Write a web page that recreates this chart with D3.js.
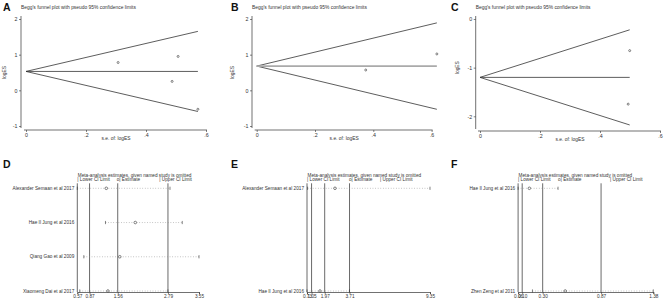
<!DOCTYPE html>
<html>
<head>
<meta charset="utf-8">
<script src="https://cdn.jsdelivr.net/npm/d3@7"></script>
<style>
body { margin: 0; background: #fff; }
text { font-family: "Liberation Sans", Arial, sans-serif; fill: #333; }
</style>
</head>
<body>
<div id="wrapper"></div>
<script>
// Begg's funnel plots: standard error and log effect size per study
const seA = [0.307, 0.507, 0.487, 0.573]
const logesA = [0.78, 0.95, 0.25, -0.53]
const pooledA = 0.53

const seB = [0.374, 0.618]
const logesB = [0.57, 1.02]
const pooledB = 0.68

const seC = [0.499, 0.494]
const logesC = [-0.65, -1.75]
const pooledC = -1.2

const seTicks = [0, 0.2, 0.4, 0.6]
const yTicksAB = [-1, 0, 1, 2]
const yTicksC = [-2, -1, 0]

// sensitivity analysis: estimate when the named study is omitted
const studiesD = ['Alexander Semaan et al 2017', 'Hae Il Jung et al 2016', 'Qiang Gao et al 2009', 'Xiaomeng Dai et al 2017']
const estD = [1.28, 1.99, 1.61, 1.32]
const lowD = [0.57, 1.26, 0.73, 0.63]
const highD = [2.84, 3.14, 3.55, 2.79]
const overallD = [0.87, 1.56, 2.79]
const ticksD = [0.57, 0.87, 1.56, 2.79, 3.55]

const studiesE = ['Alexander Semaan et al 2017', 'Hae Il Jung et al 2016']
const estE = [2.69, 1.64]
const lowE = [0.77, 0.73]
const highE = [9.35, 3.71]
const overallE = [1.05, 1.97, 3.71]
const ticksE = [0.73, 1.05, 1.97, 3.71, 9.35]

const studiesF = ['Hae Il Jung et al 2016', 'Zhen Zeng et al 2011']
const estF = [0.17, 0.52]
const lowF = [0.06, 0.20]
const highF = [0.45, 1.38]
const overallF = [0.10, 0.30, 0.87]
const ticksF = [0.06, 0.10, 0.30, 0.87, 1.38]

const fs = 4.9
const ink = '#333'

const svg = d3.select('#wrapper').append('svg')
    .attr('width', 667)
    .attr('height', 304)
svg.append('rect').attr('width', 667).attr('height', 304).attr('fill', '#fff')

function funnelPlot(cfg) {
    const x = d3.scaleLinear().domain([0, 0.6]).range(cfg.xRange)
    const y = d3.scaleLinear().domain(cfg.yDomain).range(cfg.yRange)
    const g = svg.append('g')

    g.append('text')
        .attr('x', cfg.letterX).attr('y', 11)
        .attr('font-size', 10.5).attr('font-weight', 'bold')
        .style('fill', '#111')
        .text(cfg.letter)
    g.append('text')
        .attr('x', cfg.axisX).attr('y', 8.5)
        .attr('font-size', fs)
        .text("Begg's funnel plot with pseudo 95% confidence limits")

    const yAxis = d3.axisLeft(y).tickValues(cfg.yTicks).tickSize(2).tickPadding(1.5)
        .tickFormat(d => String(d))
    const ya = g.append('g').attr('transform', `translate(${cfg.axisX},0)`).call(yAxis)
    ya.select('.domain').remove()
    ya.selectAll('line').attr('stroke', ink).attr('stroke-width', 0.6)
    ya.selectAll('text').attr('font-size', fs + 0.4).attr('font-family', null).style('fill', ink)
    g.append('line')
        .attr('x1', cfg.axisX).attr('x2', cfg.axisX)
        .attr('y1', cfg.yRange[1] - 3).attr('y2', cfg.axisBottom)
        .attr('stroke', ink).attr('stroke-width', 0.7)

    const xAxis = d3.axisBottom(x).tickValues(seTicks).tickSize(2).tickPadding(1)
        .tickFormat(d => d === 0 ? '0' : d3.format('.1f')(d).replace(/^0/, ''))
    const xa = g.append('g').attr('transform', `translate(0,${cfg.axisBottom + 2})`).call(xAxis)
    xa.select('.domain').remove()
    xa.selectAll('line').attr('stroke', ink).attr('stroke-width', 0.6)
    xa.selectAll('text').attr('font-size', fs + 0.4).attr('font-family', null).style('fill', ink)
    g.append('line')
        .attr('x1', x(0) - 2).attr('x2', x(0.6) + 1)
        .attr('y1', cfg.axisBottom + 2).attr('y2', cfg.axisBottom + 2)
        .attr('stroke', ink).attr('stroke-width', 0.7)

    g.append('text')
        .attr('x', (x(0) + x(0.6)) / 2).attr('y', cfg.axisBottom + 12)
        .attr('text-anchor', 'middle').attr('font-size', fs)
        .text('s.e. of: logES')
    g.append('text')
        .attr('transform', `translate(${cfg.yTitleX},${(cfg.yRange[0] + cfg.yRange[1]) / 2}) rotate(-90)`)
        .attr('text-anchor', 'middle').attr('font-size', fs)
        .text('logES')

    // pseudo 95% limits out to the largest standard error
    const seMax = d3.max(cfg.se)
    const limits = [
        [[0, cfg.pooled], [seMax, cfg.pooled + 1.96 * seMax]],
        [[0, cfg.pooled], [seMax, cfg.pooled - 1.96 * seMax]]
    ]
    g.selectAll('.limit').data(limits).enter().append('line')
        .attr('x1', d => x(d[0][0])).attr('y1', d => y(d[0][1]))
        .attr('x2', d => x(d[1][0])).attr('y2', d => y(d[1][1]))
        .attr('stroke', ink).attr('stroke-width', 0.8)
    g.append('line')
        .attr('x1', x(0)).attr('x2', x(seMax))
        .attr('y1', y(cfg.pooled)).attr('y2', y(cfg.pooled))
        .attr('stroke', cfg.pooledColor).attr('stroke-width', cfg.pooledWidth)

    g.selectAll('.pt').data(cfg.se).enter().append('circle')
        .attr('cx', d => x(d))
        .attr('cy', (d, i) => y(cfg.loges[i]))
        .attr('r', 1)
        .attr('fill', 'none').attr('stroke', ink).attr('stroke-width', 0.6)
}

function influencePlot(cfg) {
    const x = d3.scaleLinear().domain([cfg.ticks[0], cfg.ticks[cfg.ticks.length - 1]]).range(cfg.xRange)
    const y = d3.scalePoint().domain(cfg.studies).range([188.3, 291])
    const g = svg.append('g')
    const axisY = 292

    g.append('text')
        .attr('x', cfg.letterX).attr('y', 167.5)
        .attr('font-size', 10.5).attr('font-weight', 'bold')
        .style('fill', '#111')
        .text(cfg.letter)
    g.append('text')
        .attr('x', cfg.xRange[0] + 0.5).attr('y', 176.8)
        .attr('font-size', fs - 0.2)
        .text('Meta-analysis estimates, given named study is omitted')
    const heads = ['| Lower CI Limit', 'o| Estimate', '| Upper CI Limit']
    g.selectAll('.head').data(heads).enter().append('text')
        .attr('x', (d, i) => cfg.xRange[0] + cfg.headOffsets[i])
        .attr('y', 181.3)
        .attr('font-size', fs - 0.2)
        .text(d => d)

    // reference lines: plot edge, overall lower limit, estimate, upper limit
    const refs = [cfg.ticks[0]].concat(cfg.overall)
    g.selectAll('.ref').data(refs).enter().append('line')
        .attr('x1', d => x(d)).attr('x2', d => x(d))
        .attr('y1', 183.3).attr('y2', axisY)
        .attr('stroke', '#444').attr('stroke-width', 0.8)

    const xAxis = d3.axisBottom(x).tickValues(cfg.ticks).tickSize(2).tickPadding(1)
        .tickFormat(d3.format('.2f'))
    const xa = g.append('g').attr('transform', `translate(0,${axisY})`).call(xAxis)
    xa.select('.domain').attr('stroke', ink).attr('stroke-width', 0.7)
    xa.selectAll('line').attr('stroke', ink).attr('stroke-width', 0.6)
    xa.selectAll('text').attr('font-size', fs - 0.2).attr('font-family', null).style('fill', ink)

    const rows = cfg.studies.map((s, i) => ({ s, est: cfg.est[i], low: cfg.low[i], high: cfg.high[i] }))
    const row = g.selectAll('.row').data(rows).enter().append('g')
        .attr('transform', d => `translate(0,${y(d.s)})`)
    row.append('line')
        .attr('x1', d => x(d.low)).attr('x2', d => x(d.high))
        .attr('stroke', '#888').attr('stroke-width', 0.6)
        .attr('stroke-dasharray', '0.8,1.8')
    row.append('line')
        .attr('x1', d => x(d.low)).attr('x2', d => x(d.low))
        .attr('y1', -1.6).attr('y2', 1.6)
        .attr('stroke', ink).attr('stroke-width', 0.6)
    row.append('line')
        .attr('x1', d => x(d.high)).attr('x2', d => x(d.high))
        .attr('y1', -1.6).attr('y2', 1.6)
        .attr('stroke', ink).attr('stroke-width', 0.6)
    row.append('circle')
        .attr('cx', d => x(d.est)).attr('r', 1.3)
        .attr('fill', '#fff').attr('stroke', ink).attr('stroke-width', 0.6)
    row.append('text')
        .attr('x', cfg.xRange[0] - 3).attr('y', 1.7)
        .attr('text-anchor', 'end').attr('font-size', fs - 0.2)
        .text(d => d.s)
}

funnelPlot({ letter: 'A', letterX: 3, axisX: 21, yTitleX: 6, xRange: [26, 206], yDomain: [-1, 2], yRange: [126, 19],
    axisBottom: 128, yTicks: yTicksAB, se: seA, loges: logesA, pooled: pooledA, pooledColor: ink, pooledWidth: 0.8 })
funnelPlot({ letter: 'B', letterX: 231, axisX: 252, yTitleX: 234, xRange: [256.7, 431.6], yDomain: [-1, 2], yRange: [126, 19],
    axisBottom: 128, yTicks: yTicksAB, se: seB, loges: logesB, pooled: pooledB, pooledColor: '#aaa', pooledWidth: 1.6 })
funnelPlot({ letter: 'C', letterX: 451, axisX: 475.7, yTitleX: 459, xRange: [480, 660], yDomain: [-2, 0], yRange: [116.3, 19],
    axisBottom: 129, yTicks: yTicksC, se: seC, loges: logesC, pooled: pooledC, pooledColor: ink, pooledWidth: 0.8 })

influencePlot({ letter: 'D', letterX: 3, xRange: [77.3, 199], ticks: ticksD, overall: overallD,
    studies: studiesD, est: estD, low: lowD, high: highD, headOffsets: [0, 39.4, 82] })
influencePlot({ letter: 'E', letterX: 231, xRange: [307, 430], ticks: ticksE, overall: overallE,
    studies: studiesE, est: estE, low: lowE, high: highE, headOffsets: [0, 42, 73] })
influencePlot({ letter: 'F', letterX: 451, xRange: [518.1, 653.3], ticks: ticksF, overall: overallF,
    studies: studiesF, est: estF, low: lowF, high: highF, headOffsets: [0, 40, 92] })
</script>
</body>
</html>
